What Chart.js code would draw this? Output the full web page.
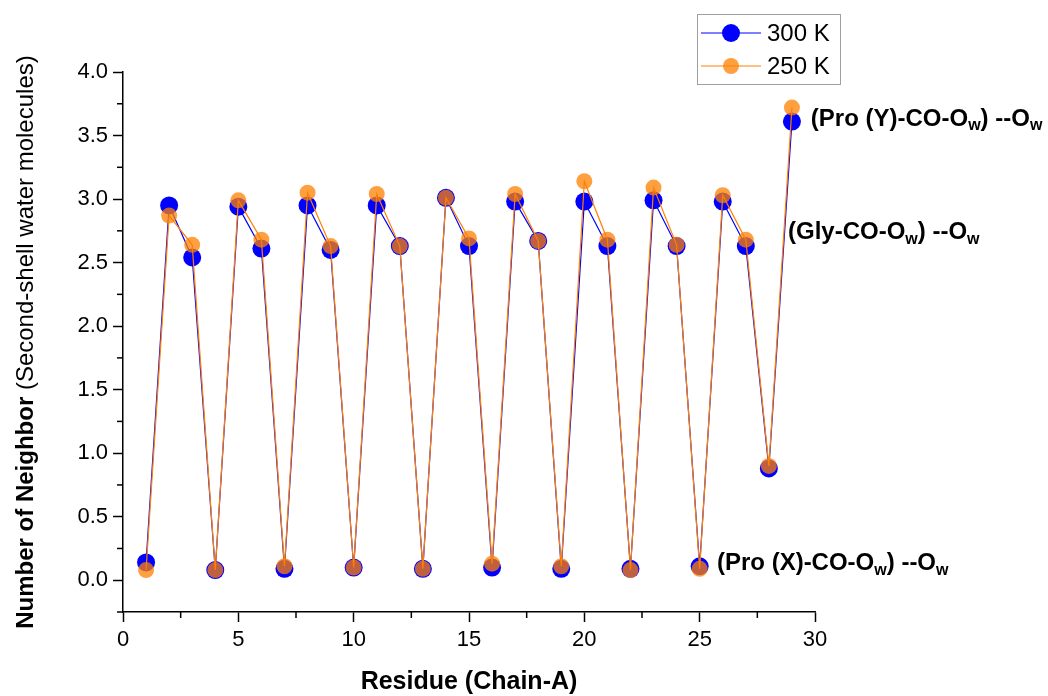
<!DOCTYPE html>
<html>
<head>
<meta charset="utf-8">
<script src="https://cdn.jsdelivr.net/npm/chart.js@4.4.1/dist/chart.umd.min.js"></script>
<style>
  html, body { margin: 0; padding: 0; background: #fff; }
  #wrap { width: 1048px; height: 696px; }
</style>
</head>
<body>
<div id="wrap"><canvas id="neighborChart" width="1048" height="696"></canvas></div>
<script>
// residue index along chain A
const residues = [1, 2, 3, 4, 5, 6, 7, 8, 9, 10, 11, 12, 13, 14, 15,
                  16, 17, 18, 19, 20, 21, 22, 23, 24, 25, 26, 27, 28, 29];

// second-shell water neighbours
const neighbors300 = [0.14, 2.95, 2.54, 0.08, 2.94, 2.61, 0.09, 2.95, 2.60, 0.10,
                      2.95, 2.63, 0.09, 3.01, 2.63, 0.10, 2.98, 2.67, 0.09, 2.98,
                      2.63, 0.09, 2.99, 2.63, 0.11, 2.98, 2.63, 0.88, 3.61];
const neighbors250 = [0.08, 2.87, 2.64, 0.08, 2.99, 2.68, 0.11, 3.05, 2.63, 0.10,
                      3.04, 2.63, 0.09, 3.01, 2.69, 0.13, 3.04, 2.67, 0.11, 3.14,
                      2.68, 0.08, 3.09, 2.64, 0.09, 3.03, 2.68, 0.90, 3.72];

const seriesLabels = ['300 K', '250 K'];
const xTitle = 'Residue (Chain-A)';
const yTitleBold = 'Number of Neighbor ';
const yTitleRest = '(Second-shell water molecules)';

// annotation text, split into [text, isSubscript]
const labelProY = [['(Pro (Y)-CO-O', false], ['w', true], [') --O', false], ['w', true]];
const labelGly = [['(Gly-CO-O', false], ['w', true], [') --O', false], ['w', true]];
const labelProX = [['(Pro (X)-CO-O', false], ['w', true], [') --O', false], ['w', true]];

const FONT = "'Liberation Sans', Arial, sans-serif";
const BLUE = '#0000ff';
const ORANGE_LINE = '#ff8000';
const ORANGE_FILL = 'rgba(255,128,0,0.75)';

function toPoints(ys) {
    return residues.map((r, i) => ({ x: r, y: ys[i] }));
}

function drawSubText(ctx, parts, x, y) {
    let cx = x;
    parts.forEach(([t, sub]) => {
        ctx.font = sub ? `bold 16px ${FONT}` : `bold 24px ${FONT}`;
        ctx.fillText(t, cx, sub ? y + 7 : y);
        cx += ctx.measureText(t).width;
    });
}

const extrasPlugin = {
    id: 'extras',
    afterDraw(chart) {
        const ctx = chart.ctx;
        const xs = chart.scales.x;
        const ys = chart.scales.y;
        const area = chart.chartArea;

        ctx.save();
        ctx.strokeStyle = '#000';
        ctx.lineWidth = 1.5;

        // minor ticks
        for (let v = 2.5; v < 30; v += 5) {
            const px = xs.getPixelForValue(v);
            ctx.beginPath();
            ctx.moveTo(px, area.bottom);
            ctx.lineTo(px, area.bottom + 6);
            ctx.stroke();
        }
        for (let v = -0.25; v < 4; v += 0.5) {
            const py = ys.getPixelForValue(v);
            ctx.beginPath();
            ctx.moveTo(area.left - 6, py);
            ctx.lineTo(area.left, py);
            ctx.stroke();
        }

        // annotations
        ctx.fillStyle = '#000';
        ctx.textBaseline = 'middle';
        ctx.textAlign = 'left';
        drawSubText(ctx, labelProY, xs.getPixelForValue(29.82), ys.getPixelForValue(3.63));
        drawSubText(ctx, labelGly, xs.getPixelForValue(28.83), ys.getPixelForValue(2.74));
        drawSubText(ctx, labelProX, xs.getPixelForValue(25.75), ys.getPixelForValue(0.13));

        // x title
        ctx.font = `bold 25px ${FONT}`;
        ctx.textAlign = 'center';
        ctx.fillText(xTitle, (area.left + area.right) / 2, 682);

        // y title, bold part + regular part
        ctx.textBaseline = 'alphabetic';
        ctx.translate(33, (area.top + area.bottom) / 2);
        ctx.rotate(-Math.PI / 2);
        ctx.font = `bold 24px ${FONT}`;
        const w1 = ctx.measureText(yTitleBold).width;
        ctx.font = `24px ${FONT}`;
        const w2 = ctx.measureText(yTitleRest).width;
        const sx = -(w1 + w2) / 2;
        ctx.textAlign = 'left';
        ctx.font = `bold 24px ${FONT}`;
        ctx.fillText(yTitleBold, sx, 0);
        ctx.font = `24px ${FONT}`;
        ctx.fillText(yTitleRest, sx + w1, 0);
        ctx.restore();

        // legend box
        ctx.save();
        const lx = 697, ly = 14, lw = 143, lh = 70;
        ctx.fillStyle = '#fff';
        ctx.fillRect(lx, ly, lw, lh);
        ctx.strokeStyle = '#a0a0a0';
        ctx.lineWidth = 1;
        ctx.strokeRect(lx + 0.5, ly + 0.5, lw, lh);
        const rows = [
            { label: seriesLabels[0], line: BLUE, fill: BLUE, r: 9, y: ly + 19 },
            { label: seriesLabels[1], line: ORANGE_LINE, fill: ORANGE_FILL, r: 8, y: ly + 52 }
        ];
        rows.forEach(row => {
            ctx.strokeStyle = row.line;
            ctx.lineWidth = 1.2;
            ctx.beginPath();
            ctx.moveTo(lx + 4, row.y);
            ctx.lineTo(lx + 64, row.y);
            ctx.stroke();
            ctx.fillStyle = row.fill;
            ctx.beginPath();
            ctx.arc(lx + 34, row.y, row.r, 0, Math.PI * 2);
            ctx.fill();
            ctx.fillStyle = '#000';
            ctx.font = `24px ${FONT}`;
            ctx.textBaseline = 'middle';
            ctx.fillText(row.label, lx + 70, row.y + 1);
        });
        ctx.restore();
    }
};

const ctx = document.getElementById('neighborChart').getContext('2d');
const chart = new Chart(ctx, {
    type: 'line',
    data: {
        datasets: [
            {
                label: seriesLabels[0],
                data: toPoints(neighbors300),
                borderColor: BLUE,
                borderWidth: 1.2,
                pointBackgroundColor: BLUE,
                pointBorderWidth: 0,
                pointRadius: 9,
                order: 2,
                tension: 0
            },
            {
                label: seriesLabels[1],
                data: toPoints(neighbors250),
                borderColor: ORANGE_LINE,
                borderWidth: 1.2,
                pointBackgroundColor: ORANGE_FILL,
                pointBorderWidth: 0,
                pointRadius: 8,
                order: 1,
                tension: 0
            }
        ]
    },
    options: {
        responsive: false,
        animation: false,
        clip: false,
        layout: { padding: { top: 72, right: 233, left: 0, bottom: 0 } },
        plugins: {
            legend: { display: false },
            tooltip: { enabled: false }
        },
        scales: {
            x: {
                type: 'linear',
                min: 0,
                max: 30,
                afterFit: (scale) => { scale.height = 84; },
                border: { color: '#000', width: 1.5 },
                grid: { drawOnChartArea: false, drawTicks: true, tickLength: 10, tickColor: '#000', tickWidth: 1.5 },
                ticks: { stepSize: 5, padding: 5, color: '#000', font: { family: FONT, size: 22 }, maxRotation: 0 }
            },
            y: {
                min: -0.25,
                max: 4.0,
                afterFit: (scale) => { scale.width = 123; },
                border: { color: '#000', width: 1.5 },
                grid: { drawOnChartArea: false, drawTicks: true, tickLength: 10, tickColor: '#000', tickWidth: 1.5 },
                ticks: {
                    stepSize: 0.5,
                    includeBounds: false,
                    padding: 5,
                    color: '#000',
                    font: { family: FONT, size: 22 },
                    callback: (v) => v.toFixed(1)
                }
            }
        }
    },
    plugins: [extrasPlugin]
});
</script>
</body>
</html>
